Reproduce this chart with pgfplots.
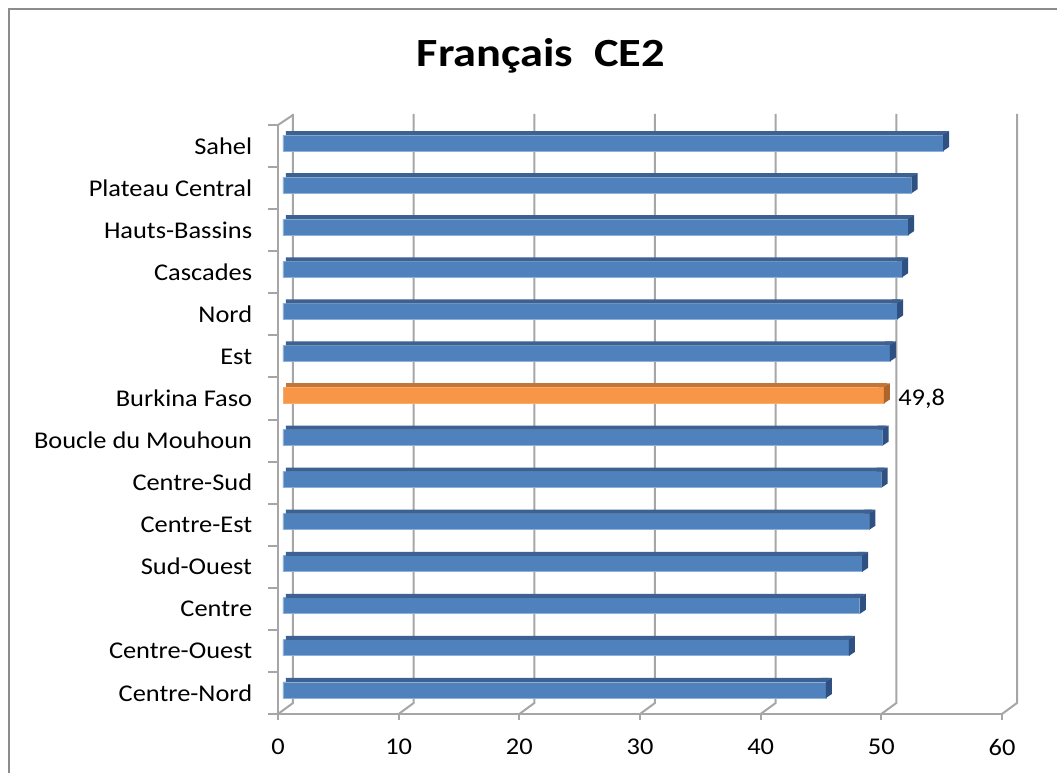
\documentclass[border=0pt]{standalone}
\usepackage{fontspec}
\setmainfont{Carlito}
\usepackage{pgfplots}
\pgfplotsset{compat=1.18}
\definecolor{barblue}{HTML}{4F81BD}
\definecolor{topblue}{HTML}{3C6192}
\definecolor{sideblue}{HTML}{2E5182}
\definecolor{edgeblue}{HTML}{8FB0D8}
\definecolor{barorange}{HTML}{F79646}
\definecolor{toporange}{HTML}{C4763A}
\definecolor{sideorange}{HTML}{AC652C}
\definecolor{gridc}{HTML}{A6A6A6}
\definecolor{framec}{HTML}{8C8C8C}
\pgfdeclareplotmark{endblue}{%
  \pgfpathmoveto{\pgfpoint{-2.5pt}{5.5pt}}\pgfpathlineto{\pgfpoint{0pt}{5.5pt}}%
  \pgfpathlineto{\pgfpoint{3pt}{7.5pt}}\pgfpathlineto{\pgfpoint{-2.5pt}{7.5pt}}\pgfpathclose
  \pgfsetfillcolor{topblue}\pgfusepath{fill}%
  \pgfpathmoveto{\pgfpoint{0pt}{-2.5pt}}\pgfpathlineto{\pgfpoint{0pt}{5.5pt}}%
  \pgfpathlineto{\pgfpoint{3pt}{7.5pt}}\pgfpathlineto{\pgfpoint{3pt}{-0.5pt}}\pgfpathclose
  \pgfsetfillcolor{sideblue}\pgfusepath{fill}}
\pgfdeclareplotmark{endorange}{%
  \pgfpathmoveto{\pgfpoint{-2.5pt}{5.5pt}}\pgfpathlineto{\pgfpoint{0pt}{5.5pt}}%
  \pgfpathlineto{\pgfpoint{3pt}{7.5pt}}\pgfpathlineto{\pgfpoint{-2.5pt}{7.5pt}}\pgfpathclose
  \pgfsetfillcolor{toporange}\pgfusepath{fill}%
  \pgfpathmoveto{\pgfpoint{0pt}{-2.5pt}}\pgfpathlineto{\pgfpoint{0pt}{5.5pt}}%
  \pgfpathlineto{\pgfpoint{3pt}{7.5pt}}\pgfpathlineto{\pgfpoint{3pt}{-0.5pt}}\pgfpathclose
  \pgfsetfillcolor{sideorange}\pgfusepath{fill}}
\begin{document}
\begin{tikzpicture}
\path[use as bounding box] (0,0) rectangle (528.5pt,386.5pt);
\draw[framec, line width=1pt] (4.5pt,0) -- (4.5pt,382pt) -- (528.5pt,382pt);
\node[anchor=base, font=\fontsize{20}{24}\selectfont\bfseries, xscale=1.16, inner sep=0pt] at (270.5pt,353pt) {Français\ \ CE2};
\begin{axis}[
  at={(139pt,29.5pt)}, anchor=south west,
  scale only axis, width=362pt, height=294.5pt,
  xmin=0, xmax=60, ymin=-0.5, ymax=13.5,
  clip=false,
  axis x line*=bottom, axis y line*=left,
  axis line style={gridc, line width=1pt},
  xtick={0,10,...,60},
  ytick={0,...,13},
  yticklabels={Centre-Nord,Centre-Ouest,Centre,Sud-Ouest,Centre-Est,Centre-Sud,Boucle du Mouhoun,Burkina Faso,Est,Nord,Cascades,Hauts-Bassins,Plateau Central,Sahel},
  minor ytick={-0.5,0.5,...,13.5},
  tick align=outside,
  major tick length=3pt, minor tick length=5pt,
  major x tick style={gridc, line width=1pt},
  major y tick style={draw=none},
  minor y tick style={draw=gridc, line width=1pt},
  /pgf/number format/assume math mode=true,
  xticklabel style={font=\fontsize{12}{14}\selectfont, xscale=1.1, text=black, yshift=-6pt},
  yticklabel style={font=\fontsize{12}{14}\selectfont, xscale=1.1, text=black, xshift=-5.5pt},
]
\pgfplotsinvokeforeach{0,10,...,60}{
  \draw[gridc, line width=1pt] (axis cs:#1,-0.5) -- ++(7.5pt,5.5pt) -- ++(0pt,294.5pt);
}
\draw[gridc, line width=1pt] (axis cs:0,13.5) -- ++(7.5pt,5pt);
% front faces
\addplot[xbar, bar width=8pt, bar shift=1.5pt, xshift=2.5pt, fill=barblue, draw=edgeblue, line width=0.4pt] coordinates {
 (45.0,0) (46.9,1) (47.8,2) (48.0,3) (48.6,4) (49.6,5) (49.7,6)
 (50.3,8) (50.9,9) (51.3,10) (51.8,11) (52.1,12) (54.7,13)};
\addplot[xbar, bar width=8pt, bar shift=1.5pt, xshift=2.5pt, fill=barorange, draw=barorange!80!white, line width=0.4pt] coordinates {(49.8,7)};
% top faces
\addplot[xbar, bar width=2pt, bar shift=6.5pt, xshift=4pt, fill=topblue, draw=none] coordinates {
 (45.0,0) (46.9,1) (47.8,2) (48.0,3) (48.6,4) (49.6,5) (49.7,6)
 (50.3,8) (50.9,9) (51.3,10) (51.8,11) (52.1,12) (54.7,13)};
\addplot[xbar, bar width=2pt, bar shift=6.5pt, xshift=4pt, fill=toporange, draw=none] coordinates {(49.8,7)};
% side faces
\addplot[only marks, mark=endblue, xshift=2.5pt] coordinates {
 (45.0,0) (46.9,1) (47.8,2) (48.0,3) (48.6,4) (49.6,5) (49.7,6)
 (50.3,8) (50.9,9) (51.3,10) (51.8,11) (52.1,12) (54.7,13)};
\addplot[only marks, mark=endorange, xshift=2.5pt,
  point meta=explicit symbolic, nodes near coords,
  every node near coord/.style={anchor=west, inner sep=0pt, xshift=7pt, font=\fontsize{12}{14}\selectfont, xscale=1.1, text=black}]
  coordinates {(49.8,7) [49,8]};
\end{axis}
\end{tikzpicture}
\end{document}
